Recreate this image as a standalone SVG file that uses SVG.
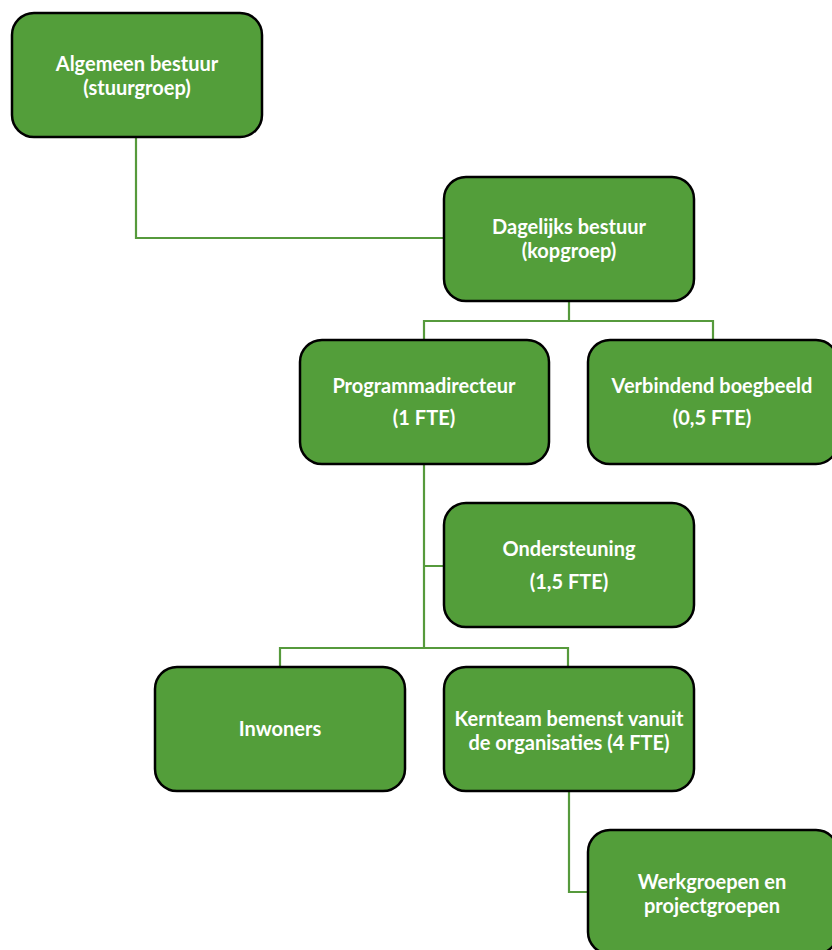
<svg xmlns="http://www.w3.org/2000/svg" width="832" height="950" viewBox="0 0 832 950">
<style>
.box{fill:#539e3a;stroke:#000;stroke-width:2.5}
.t{font-family:Lato,"Open Sans","Liberation Sans",sans-serif;font-weight:bold;font-size:20px;fill:#fff;text-anchor:middle}
.c{fill:none;stroke:#569a3c;stroke-width:2.2}
</style>
<rect width="832" height="950" fill="#fff"/>
<g id="connectors">
<path class="c" d="M136 137V238H444"/>
<path class="c" d="M569 301V321M424 340V321H713V340"/>
<path class="c" d="M424 464V648M424 566H444M280 667V648H568V667"/>
<path class="c" d="M569 791V892H588"/>
</g>
<g id="n1"><rect class="box" x="12" y="13" width="250" height="124" rx="22"/>
<text class="t" x="137" y="71">Algemeen bestuur</text><text class="t" x="137" y="95">(stuurgroep)</text></g>
<g id="n2"><rect class="box" x="444" y="177" width="250" height="124" rx="22"/>
<text class="t" x="569" y="234">Dagelijks bestuur</text><text class="t" x="569" y="258">(kopgroep)</text></g>
<g id="n3"><rect class="box" x="300" y="340" width="249" height="124" rx="22"/>
<text class="t" x="424" y="393">Programmadirecteur</text><text class="t" x="424" y="425">(1 FTE)</text></g>
<g id="n4"><rect class="box" x="588" y="340" width="250" height="124" rx="22"/>
<text class="t" x="712" y="393">Verbindend boegbeeld</text><text class="t" x="712" y="425">(0,5 FTE)</text></g>
<g id="n5"><rect class="box" x="444" y="503" width="250" height="124" rx="22"/>
<text class="t" x="569" y="556">Ondersteuning</text><text class="t" x="569" y="589">(1,5 FTE)</text></g>
<g id="n6"><rect class="box" x="155" y="667" width="250" height="124" rx="22"/>
<text class="t" x="280" y="736">Inwoners</text></g>
<g id="n7"><rect class="box" x="444" y="667" width="250" height="124" rx="22"/>
<text class="t" x="569" y="726">Kernteam bemenst vanuit</text><text class="t" x="569" y="750">de organisaties (4 FTE)</text></g>
<g id="n8"><rect class="box" x="588" y="830" width="250" height="124" rx="22"/>
<text class="t" x="712" y="889">Werkgroepen en</text><text class="t" x="712" y="913">projectgroepen</text></g>
</svg>
